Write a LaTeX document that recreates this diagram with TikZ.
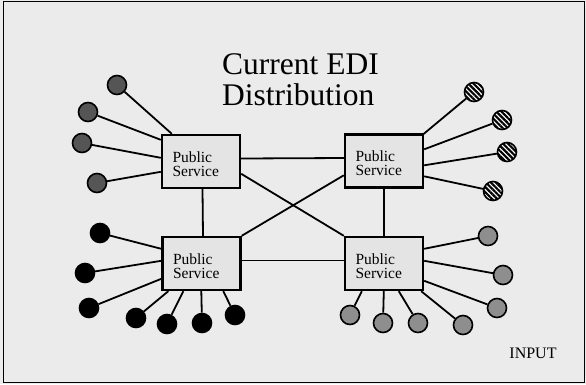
\documentclass[tikz,border=0pt]{standalone}
\usepackage{fontspec}
\setmainfont{Liberation Serif}
\usetikzlibrary{calc,patterns.meta}
\definecolor{bgc}{HTML}{ECEBEB}
\definecolor{boxc}{HTML}{E4E4E4}
\definecolor{dkc}{HTML}{555555}
\definecolor{ltc}{HTML}{8E8E8E}
\begin{document}
\begin{tikzpicture}[x=1pt,y=-1pt,
  psbox/.style={draw, line width=2.4pt, fill=boxc, align=left, text width=57pt,
    inner xsep=10.5pt, inner ysep=0pt, minimum height=53pt, text depth=9.4pt,
    font=\fontsize{15.5}{14}\selectfont},
  term/.style={circle, draw, line width=1.6pt, minimum size=19pt, inner sep=0pt},
  tdark/.style={term, fill=dkc},
  tblack/.style={term, fill=black},
  tlight/.style={term, fill=ltc},
  thatch/.style={term, fill=white, postaction={pattern={Lines[angle=-45,distance=3.6pt,line width=2.2pt]}}},
  link/.style={line width=1.8pt}]
\useasboundingbox (0,0) rectangle (586,384);
\fill[bgc] (0,0) rectangle (586,384);
\draw[line width=1pt] (3,1.5) rectangle (584.5,382.5);

\node[font=\fontsize{31.5}{31}\selectfont, align=left, anchor=north west, inner sep=0pt] (title) at (222,53) {Current EDI\\Distribution};
\node[font=\fontsize{16}{16}\selectfont] (input) at (533,353) {INPUT};

\node[psbox] (TL) at (201,161.5) {Public\\Service};
\node[psbox] (TR) at (384,161) {Public\\Service};
\node[psbox] (BL) at (201.5,263.5) {Public\\Service};
\node[psbox] (BR) at (384,263.5) {Public\\Service};

% inter-box links
\draw[link] ($(TL.east)+(0,-3)$) -- ($(TR.west)+(0,-3)$);
\draw[link] ($(BL.east)+(0,-3)$) -- ($(BR.west)+(0,-3)$);
\draw[link] ($(TL.south)+(1.5,0)$) -- ($(BL.north)+(1.5,0)$);
\draw[link] (TR.south) -- (BR.north);
\draw[link] ($(TL.north east)+(0,40)$) -- (BR.north west);
\draw[link] ($(TR.north west)+(0,42)$) -- (BL.north east);

% top-left terminals
\node[tdark] (a1) at (117,85) {};
\node[tdark] (a2) at (88,112) {};
\node[tdark] (a3) at (82,143) {};
\node[tdark] (a4) at (97,183) {};
\draw[link] (a1) -- ($(TL.north west)+(11,0)$);
\draw[link] (a2) -- ($(TL.north west)+(0,6)$);
\draw[link] (a3) -- ($(TL.north west)+(0,24)$);
\draw[link] (a4) -- ($(TL.north west)+(0,38)$);

% top-right terminals
\node[thatch] (b1) at (474,92) {};
\node[thatch] (b2) at (502,120) {};
\node[thatch] (b3) at (507,152) {};
\node[thatch] (b4) at (493,191) {};
\draw[link] (b1) -- ($(TR.north east)+(-1,1)$);
\draw[link] (b2) -- ($(TR.north east)+(0,16)$);
\draw[link] (b3) -- ($(TR.north east)+(0,32)$);
\draw[link] (b4) -- ($(TR.north east)+(0,43)$);

% bottom-left terminals
\node[tblack] (c1) at (100,233) {};
\node[tblack] (c2) at (85,273) {};
\node[tblack] (c3) at (89,308) {};
\node[tblack] (c4) at (136,318) {};
\node[tblack] (c5) at (167,324) {};
\node[tblack] (c6) at (202,323) {};
\node[tblack] (c7) at (235,315) {};
\draw[link] (c1) -- ($(BL.north west)+(0,13)$);
\draw[link] (c2) -- ($(BL.north west)+(0,25)$);
\draw[link] (c3) -- ($(BL.north west)+(0,43)$);
\draw[link] (c4) -- ($(BL.south west)+(7,0)$);
\draw[link] (c5) -- ($(BL.south west)+(22,0)$);
\draw[link] (c6) -- ($(BL.south west)+(40,0)$);
\draw[link] (c7) -- ($(BL.south west)+(62,0)$);

% bottom-right terminals
\node[tlight] (d1) at (488,236) {};
\node[tlight] (d2) at (503,275) {};
\node[tlight] (d3) at (497,308) {};
\node[tlight] (d4) at (463,325) {};
\node[tlight] (d5) at (418,323) {};
\node[tlight] (d6) at (383,323) {};
\node[tlight] (d7) at (350,315) {};
\draw[link] (d1) -- ($(BR.north east)+(0,13)$);
\draw[link] (d2) -- ($(BR.north east)+(0,25)$);
\draw[link] (d3) -- ($(BR.north east)+(0,45)$);
\draw[link] (d4) -- ($(BR.south east)+(-3,0)$);
\draw[link] (d5) -- ($(BR.south west)+(55,0)$);
\draw[link] (d6) -- ($(BR.south west)+(40,0)$);
\draw[link] (d7) -- ($(BR.south west)+(18,0)$);
\end{tikzpicture}
\end{document}
